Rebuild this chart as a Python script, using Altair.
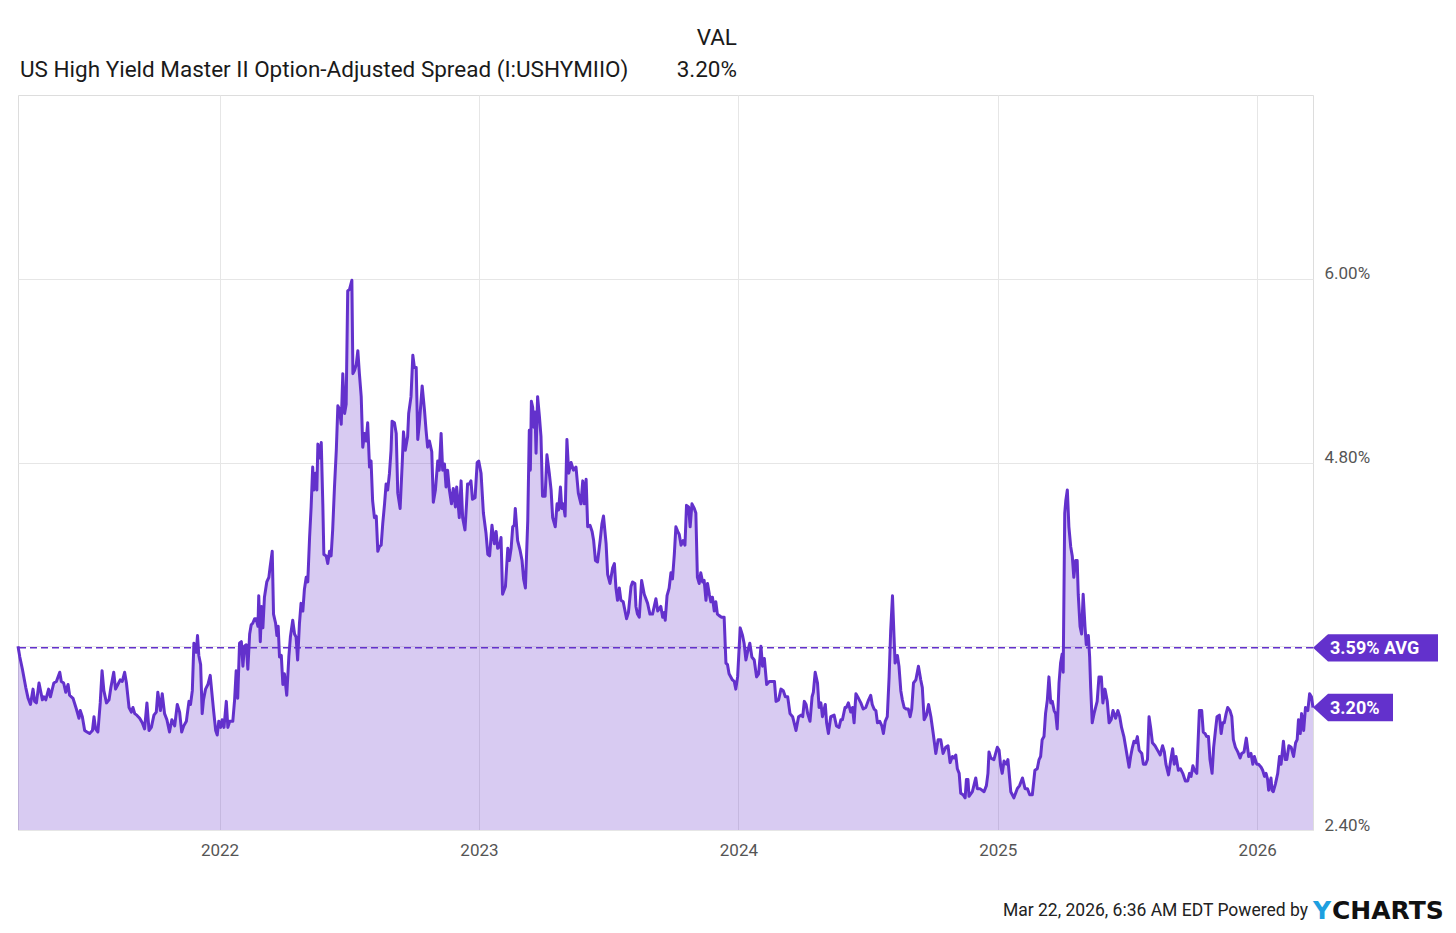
import altair as alt
import pandas as pd

# ---- data (decimal year, spread in %) ----
years_2021 = [2021.223, 2021.230, 2021.240, 2021.253, 2021.262, 2021.271, 2021.281, 2021.287, 2021.294, 2021.304,
              2021.317, 2021.323, 2021.330, 2021.341, 2021.348, 2021.361, 2021.371, 2021.384, 2021.390, 2021.399,
              2021.407, 2021.416, 2021.422, 2021.435, 2021.448, 2021.458, 2021.463, 2021.471, 2021.480, 2021.489,
              2021.499, 2021.510, 2021.516, 2021.522, 2021.531, 2021.540, 2021.547, 2021.554, 2021.564, 2021.574,
              2021.581, 2021.592, 2021.599, 2021.608, 2021.617, 2021.625, 2021.634, 2021.641, 2021.651, 2021.660,
              2021.666, 2021.673, 2021.681, 2021.692, 2021.702, 2021.711, 2021.720, 2021.728, 2021.737, 2021.747,
              2021.756, 2021.762, 2021.772, 2021.779, 2021.788, 2021.797, 2021.807, 2021.816, 2021.827, 2021.837,
              2021.846, 2021.854, 2021.862, 2021.872, 2021.882, 2021.888, 2021.895, 2021.901, 2021.910, 2021.915,
              2021.920, 2021.927, 2021.933, 2021.938, 2021.946, 2021.955, 2021.964, 2021.969, 2021.977, 2021.985,
              2021.991, 2021.997]
spread_2021 = [3.60, 3.53, 3.45, 3.33, 3.26, 3.22, 3.32, 3.24, 3.23, 3.36,
               3.25, 3.27, 3.25, 3.32, 3.27, 3.36, 3.37, 3.43, 3.37, 3.36,
               3.30, 3.35, 3.28, 3.26, 3.19, 3.13, 3.18, 3.14, 3.05, 3.04,
               3.03, 3.05, 3.14, 3.06, 3.04, 3.23, 3.44, 3.31, 3.23, 3.25,
               3.33, 3.43, 3.32, 3.35, 3.38, 3.37, 3.43, 3.36, 3.20, 3.17,
               3.20, 3.16, 3.15, 3.13, 3.10, 3.06, 3.23, 3.05, 3.07, 3.15,
               3.17, 3.30, 3.18, 3.29, 3.16, 3.12, 3.04, 3.12, 3.08, 3.22,
               3.17, 3.04, 3.08, 3.11, 3.24, 3.22, 3.31, 3.62, 3.56, 3.67,
               3.54, 3.48, 3.16, 3.25, 3.32, 3.35, 3.41, 3.32, 3.18, 3.05,
               3.02, 3.11]

years_2022 = [2022.004, 2022.010, 2022.017, 2022.026, 2022.032, 2022.039, 2022.051, 2022.058, 2022.064, 2022.070,
              2022.077, 2022.084, 2022.090, 2022.096, 2022.103, 2022.109, 2022.116, 2022.122, 2022.128, 2022.135,
              2022.141, 2022.148, 2022.151, 2022.157, 2022.162, 2022.167, 2022.173, 2022.182, 2022.190, 2022.195,
              2022.203, 2022.208, 2022.216, 2022.221, 2022.226, 2022.231, 2022.238, 2022.244, 2022.250, 2022.259,
              2022.267, 2022.273, 2022.282, 2022.289, 2022.295, 2022.301, 2022.308, 2022.314, 2022.321, 2022.327,
              2022.334, 2022.340, 2022.347, 2022.353, 2022.359, 2022.363, 2022.370, 2022.375, 2022.379, 2022.385,
              2022.392, 2022.398, 2022.402, 2022.411, 2022.417, 2022.424, 2022.430, 2022.436, 2022.443, 2022.450,
              2022.456, 2022.462, 2022.469, 2022.475, 2022.482, 2022.488, 2022.494, 2022.501, 2022.510, 2022.514,
              2022.520, 2022.527, 2022.533, 2022.539, 2022.546, 2022.552, 2022.559, 2022.565, 2022.571, 2022.578,
              2022.584, 2022.590, 2022.597, 2022.604, 2022.610, 2022.616, 2022.623, 2022.629, 2022.636, 2022.642,
              2022.648, 2022.655, 2022.661, 2022.665, 2022.674, 2022.681, 2022.687, 2022.696, 2022.704, 2022.709,
              2022.716, 2022.725, 2022.729, 2022.738, 2022.745, 2022.751, 2022.758, 2022.764, 2022.770, 2022.781,
              2022.790, 2022.796, 2022.802, 2022.809, 2022.818, 2022.824, 2022.832, 2022.841, 2022.847, 2022.854,
              2022.860, 2022.867, 2022.873, 2022.879, 2022.886, 2022.894, 2022.901, 2022.909, 2022.914, 2022.924,
              2022.931, 2022.937, 2022.946, 2022.952, 2022.956, 2022.963, 2022.969, 2022.975, 2022.985, 2022.993,
              2022.999]
spread_2022 = [3.07, 3.12, 3.07, 3.24, 3.07, 3.11, 3.11, 3.25, 3.44, 3.26,
               3.62, 3.63, 3.47, 3.60, 3.61, 3.45, 3.68, 3.74, 3.75, 3.78,
               3.78, 3.73, 3.93, 3.63, 3.86, 3.72, 3.92, 4.02, 4.05, 4.12,
               4.22, 3.81, 3.75, 3.67, 3.73, 3.53, 3.54, 3.35, 3.42, 3.28,
               3.53, 3.66, 3.77, 3.68, 3.66, 3.51, 3.75, 3.88, 3.83, 3.97,
               4.05, 4.02, 4.31, 4.51, 4.77, 4.62, 4.73, 4.62, 4.92, 4.83,
               4.93, 4.53, 4.20, 4.19, 4.14, 4.22, 4.19, 4.36, 4.64, 4.88,
               5.17, 5.15, 5.05, 5.38, 5.12, 5.18, 5.92, 5.93, 5.99, 5.38,
               5.40, 5.44, 5.53, 5.38, 5.23, 4.90, 4.99, 4.94, 5.06, 4.77,
               4.81, 4.55, 4.44, 4.45, 4.22, 4.25, 4.26, 4.40, 4.53, 4.66,
               4.62, 4.73, 4.88, 5.07, 5.06, 4.99, 4.60, 4.50, 4.79, 5.00,
               4.88, 4.97, 5.12, 5.23, 5.50, 5.42, 5.42, 4.95, 5.05, 5.30,
               5.14, 5.01, 4.90, 4.94, 4.87, 4.54, 4.62, 4.81, 4.75, 4.99,
               4.75, 4.79, 4.64, 4.75, 4.62, 4.53, 4.63, 4.51, 4.64, 4.44,
               4.68, 4.44, 4.36, 4.53, 4.66, 4.66, 4.68, 4.56, 4.57, 4.80,
               4.81]

years_2023 = [2023.008, 2023.017, 2023.027, 2023.034, 2023.041, 2023.050, 2023.059, 2023.066, 2023.072, 2023.079,
              2023.085, 2023.091, 2023.102, 2023.111, 2023.117, 2023.124, 2023.130, 2023.136, 2023.140, 2023.149,
              2023.158, 2023.166, 2023.172, 2023.179, 2023.188, 2023.194, 2023.198, 2023.202, 2023.207, 2023.211,
              2023.216, 2023.220, 2023.226, 2023.233, 2023.239, 2023.245, 2023.255, 2023.262, 2023.271, 2023.278,
              2023.284, 2023.294, 2023.301, 2023.307, 2023.314, 2023.319, 2023.325, 2023.332, 2023.339, 2023.346,
              2023.355, 2023.364, 2023.374, 2023.383, 2023.393, 2023.400, 2023.406, 2023.413, 2023.419, 2023.428,
              2023.436, 2023.442, 2023.449, 2023.457, 2023.467, 2023.474, 2023.480, 2023.490, 2023.496, 2023.505,
              2023.515, 2023.522, 2023.528, 2023.534, 2023.541, 2023.547, 2023.556, 2023.563, 2023.569, 2023.576,
              2023.586, 2023.592, 2023.601, 2023.605, 2023.611, 2023.618, 2023.627, 2023.637, 2023.650, 2023.659,
              2023.669, 2023.682, 2023.689, 2023.701, 2023.708, 2023.714, 2023.718, 2023.725, 2023.733, 2023.740,
              2023.746, 2023.753, 2023.759, 2023.766, 2023.772, 2023.779, 2023.787, 2023.794, 2023.800, 2023.808,
              2023.814, 2023.821, 2023.830, 2023.836, 2023.842, 2023.849, 2023.855, 2023.862, 2023.868, 2023.875,
              2023.881, 2023.888, 2023.894, 2023.900, 2023.907, 2023.913, 2023.919, 2023.926, 2023.935, 2023.945,
              2023.952, 2023.958, 2023.964, 2023.977, 2023.984, 2023.990, 2023.997]
spread_2023 = [4.73, 4.47, 4.34, 4.20, 4.19, 4.39, 4.27, 4.35, 4.24, 4.25,
               4.31, 3.94, 3.99, 4.24, 4.16, 4.24, 4.38, 4.39, 4.50, 4.29,
               4.23, 4.16, 4.04, 3.98, 4.42, 5.01, 4.75, 5.20, 5.16, 5.03,
               5.13, 4.86, 5.23, 5.10, 4.97, 4.58, 4.58, 4.85, 4.73, 4.62,
               4.44, 4.38, 4.53, 4.49, 4.64, 4.50, 4.53, 4.45, 4.95, 4.73,
               4.80, 4.75, 4.77, 4.60, 4.53, 4.68, 4.53, 4.69, 4.38, 4.39,
               4.35, 4.29, 4.16, 4.15, 4.29, 4.40, 4.45, 4.27, 4.07, 4.01,
               4.11, 4.14, 3.98, 3.90, 3.98, 3.90, 3.89, 3.83, 3.78, 3.82,
               3.99, 4.02, 4.01, 3.86, 3.81, 3.79, 4.03, 3.94, 3.88, 3.81,
               3.81, 3.91, 3.83, 3.86, 3.79, 3.82, 3.77, 3.93, 3.98, 4.08,
               4.04, 4.20, 4.38, 4.35, 4.33, 4.26, 4.29, 4.26, 4.52, 4.51,
               4.38, 4.53, 4.50, 4.47, 4.05, 4.01, 4.08, 4.02, 4.03, 3.90,
               4.01, 3.94, 3.89, 3.92, 3.83, 3.89, 3.81, 3.80, 3.79, 3.79,
               3.49, 3.48, 3.42, 3.38, 3.37, 3.32, 3.40]

years_2024 = [2024.007, 2024.016, 2024.022, 2024.029, 2024.035, 2024.044, 2024.052, 2024.061, 2024.070, 2024.078,
              2024.087, 2024.093, 2024.100, 2024.109, 2024.119, 2024.130, 2024.139, 2024.145, 2024.155, 2024.164,
              2024.173, 2024.181, 2024.190, 2024.199, 2024.209, 2024.222, 2024.232, 2024.241, 2024.248, 2024.254,
              2024.261, 2024.267, 2024.276, 2024.284, 2024.289, 2024.296, 2024.305, 2024.311, 2024.318, 2024.324,
              2024.335, 2024.340, 2024.347, 2024.356, 2024.369, 2024.378, 2024.388, 2024.395, 2024.401, 2024.411,
              2024.416, 2024.424, 2024.433, 2024.440, 2024.446, 2024.453, 2024.463, 2024.472, 2024.481, 2024.491,
              2024.502, 2024.510, 2024.516, 2024.523, 2024.530, 2024.536, 2024.545, 2024.553, 2024.559, 2024.566,
              2024.574, 2024.581, 2024.587, 2024.594, 2024.600, 2024.604, 2024.613, 2024.619, 2024.626, 2024.632,
              2024.639, 2024.647, 2024.655, 2024.662, 2024.668, 2024.675, 2024.684, 2024.694, 2024.703, 2024.709,
              2024.716, 2024.725, 2024.733, 2024.742, 2024.751, 2024.761, 2024.770, 2024.780, 2024.789, 2024.799,
              2024.808, 2024.816, 2024.825, 2024.831, 2024.838, 2024.844, 2024.851, 2024.857, 2024.866, 2024.874,
              2024.879, 2024.885, 2024.889, 2024.902, 2024.915, 2024.921, 2024.931, 2024.947, 2024.956, 2024.962,
              2024.966, 2024.973, 2024.985, 2024.998]
spread_2024 = [3.72, 3.67, 3.62, 3.51, 3.56, 3.62, 3.53, 3.51, 3.40, 3.42,
               3.60, 3.47, 3.52, 3.35, 3.37, 3.37, 3.37, 3.24, 3.25, 3.32,
               3.31, 3.27, 3.27, 3.16, 3.14, 3.05, 3.14, 3.15, 3.14, 3.24,
               3.22, 3.16, 3.11, 3.27, 3.30, 3.43, 3.36, 3.20, 3.23, 3.14,
               3.22, 3.10, 3.03, 3.14, 3.15, 3.08, 3.07, 3.12, 3.12, 3.20,
               3.20, 3.23, 3.17, 3.20, 3.10, 3.29, 3.26, 3.23, 3.19, 3.20,
               3.25, 3.28, 3.22, 3.19, 3.18, 3.10, 3.11, 3.08, 3.03, 3.11,
               3.14, 3.40, 3.70, 3.93, 3.66, 3.49, 3.54, 3.47, 3.31, 3.25,
               3.20, 3.19, 3.19, 3.14, 3.19, 3.36, 3.38, 3.47, 3.38, 3.33,
               3.12, 3.15, 3.22, 3.14, 3.03, 2.90, 2.99, 2.99, 2.90, 2.94,
               2.95, 2.84, 2.88, 2.87, 2.89, 2.80, 2.77, 2.64, 2.63, 2.61,
               2.73, 2.73, 2.62, 2.65, 2.74, 2.67, 2.67, 2.65, 2.69, 2.77,
               2.91, 2.87, 2.86, 2.94]

years_2025 = [2025.005, 2025.011, 2025.017, 2025.024, 2025.033, 2025.039, 2025.050, 2025.062, 2025.075, 2025.084,
              2025.095, 2025.105, 2025.114, 2025.123, 2025.133, 2025.143, 2025.152, 2025.159, 2025.165, 2025.171,
              2025.178, 2025.184, 2025.191, 2025.197, 2025.204, 2025.210, 2025.217, 2025.223, 2025.229, 2025.236,
              2025.242, 2025.248, 2025.252, 2025.258, 2025.262, 2025.268, 2025.274, 2025.281, 2025.287, 2025.293,
              2025.300, 2025.306, 2025.310, 2025.317, 2025.323, 2025.329, 2025.336, 2025.341, 2025.349, 2025.354,
              2025.358, 2025.364, 2025.371, 2025.377, 2025.383, 2025.390, 2025.399, 2025.405, 2025.413, 2025.422,
              2025.429, 2025.437, 2025.444, 2025.454, 2025.463, 2025.470, 2025.477, 2025.486, 2025.493, 2025.499,
              2025.506, 2025.512, 2025.519, 2025.525, 2025.532, 2025.538, 2025.545, 2025.555, 2025.561, 2025.570,
              2025.577, 2025.583, 2025.589, 2025.596, 2025.606, 2025.616, 2025.626, 2025.635, 2025.642, 2025.648,
              2025.658, 2025.667, 2025.674, 2025.680, 2025.687, 2025.696, 2025.704, 2025.713, 2025.723, 2025.732,
              2025.739, 2025.745, 2025.752, 2025.758, 2025.767, 2025.777, 2025.786, 2025.792, 2025.799, 2025.805,
              2025.812, 2025.818, 2025.826, 2025.832, 2025.839, 2025.845, 2025.854, 2025.861, 2025.867, 2025.873,
              2025.880, 2025.886, 2025.895, 2025.902, 2025.908, 2025.916, 2025.925, 2025.934, 2025.940, 2025.949,
              2025.958, 2025.967, 2025.976, 2025.983, 2025.989, 2025.998]
spread_2025 = [2.92, 2.82, 2.77, 2.85, 2.83, 2.86, 2.65, 2.61, 2.67, 2.69,
               2.74, 2.67, 2.67, 2.63, 2.63, 2.79, 2.80, 2.86, 2.88, 2.99,
               3.01, 3.16, 3.25, 3.40, 3.23, 3.24, 3.18, 3.16, 3.06, 3.36,
               3.49, 3.55, 3.43, 4.47, 4.55, 4.62, 4.38, 4.25, 4.19, 4.05,
               4.16, 4.16, 3.94, 3.73, 3.68, 3.94, 3.73, 3.61, 3.67, 3.53,
               3.33, 3.10, 3.16, 3.20, 3.24, 3.40, 3.40, 3.23, 3.32, 3.24,
               3.10, 3.12, 3.18, 3.13, 3.18, 3.14, 3.07, 3.01, 2.94, 2.88,
               2.81, 2.88, 2.94, 2.98, 2.97, 3.01, 2.92, 2.90, 2.83, 2.83,
               2.86, 3.14, 3.07, 2.97, 2.95, 2.92, 2.89, 2.95, 2.91, 2.83,
               2.76, 2.86, 2.93, 2.83, 2.88, 2.79, 2.80, 2.77, 2.72, 2.72,
               2.77, 2.75, 2.82, 2.79, 2.77, 3.18, 3.18, 3.04, 3.03, 3.01,
               3.01, 2.86, 2.77, 2.94, 3.05, 3.14, 3.15, 3.03, 3.10, 3.10,
               3.16, 3.20, 3.18, 3.14, 2.99, 2.94, 2.91, 2.87, 2.90, 2.91,
               3.00, 2.88, 2.90, 2.83, 2.88, 2.83]

years_2026 = [2026.005, 2026.015, 2026.021, 2026.028, 2026.034, 2026.040, 2026.044, 2026.053, 2026.057, 2026.062,
              2026.070, 2026.079, 2026.086, 2026.092, 2026.101, 2026.108, 2026.114, 2026.122, 2026.131, 2026.140,
              2026.148, 2026.154, 2026.159, 2026.166, 2026.171, 2026.179, 2026.186, 2026.195, 2026.202, 2026.209,
              2026.215]
spread_2026 = [2.83, 2.81, 2.79, 2.75, 2.77, 2.73, 2.66, 2.74, 2.66, 2.65,
               2.70, 2.77, 2.88, 2.83, 2.98, 2.86, 2.86, 2.95, 2.94, 2.88,
               2.97, 2.99, 3.12, 3.03, 3.16, 3.05, 3.20, 3.18, 3.29, 3.27,
               3.20]

average_value = 3.59
last_value = 3.20
year_ticks = [2022, 2023, 2024, 2025, 2026]
value_ticks = [2.40, 3.60, 4.80, 6.00]
y_domain = [2.40, 7.20]

series_name = "US High Yield Master II Option-Adjusted Spread (I:USHYMIIO)"
val_header = "VAL"
val_text = "3.20%"
avg_label = "3.59% AVG"
last_label = "3.20%"
footer_text = "Mar 22, 2026, 6:36 AM EDT Powered by"

# ---- build table ----
all_years = years_2021 + years_2022 + years_2023 + years_2024 + years_2025 + years_2026
all_spread = spread_2021 + spread_2022 + spread_2023 + spread_2024 + spread_2025 + spread_2026
df = pd.DataFrame({"year": all_years, "spread": all_spread})
x_domain = [min(all_years), max(all_years)]

PURPLE = "#6331cc"
FONT = "Roboto"
W, H = 1295, 735

xscale = alt.Scale(domain=x_domain, nice=False, zero=False)
yscale = alt.Scale(domain=y_domain, nice=False, zero=False)

x_axis = alt.Axis(values=year_ticks, format="d", title=None, ticks=False, domain=False,
                  labelFontSize=17, labelColor="#555555", labelFont=FONT, labelPadding=12,
                  grid=True, gridColor="#e6e6e6", labelFlush=False)
y_axis = alt.Axis(values=value_ticks, orient="right", title=None, ticks=False, domain=False,
                  labelExpr="format(datum.value, '.2f') + '%'", labelFontSize=17,
                  labelColor="#555555", labelFont=FONT, labelPadding=11,
                  labelBaseline="alphabetic", labelAlign="left",
                  grid=True, gridColor="#e6e6e6")

base = alt.Chart(df)

area = base.mark_area(color=PURPLE, opacity=0.25).encode(
    x=alt.X("year:Q", scale=xscale, axis=x_axis),
    y=alt.Y("spread:Q", scale=yscale, axis=y_axis),
    y2=alt.datum(y_domain[0]),
)

line = base.mark_line(color=PURPLE, strokeWidth=3, strokeJoin="round").encode(
    x=alt.X("year:Q", scale=xscale),
    y=alt.Y("spread:Q", scale=yscale),
)

avg_df = pd.DataFrame({"year": [x_domain[1]], "spread": [average_value], "label": [avg_label]})
last_df = pd.DataFrame({"year": [x_domain[1]], "spread": [last_value], "label": [last_label]})

avg_rule = alt.Chart(avg_df).mark_rule(color=PURPLE, strokeDash=[7, 4], strokeWidth=1.5).encode(
    y=alt.Y("spread:Q", scale=yscale),
)

avg_shape = "M0,0 L1.1,-1 L9.16,-1 L9.16,1 L1.1,1 Z"
last_shape = "M0,0 L1.1,-1 L5.86,-1 L5.86,1 L1.1,1 Z"

avg_flag = alt.Chart(avg_df).mark_point(shape=avg_shape, filled=True, size=745, color=PURPLE, opacity=1).encode(
    x=alt.X("year:Q", scale=xscale), y=alt.Y("spread:Q", scale=yscale))
last_flag = alt.Chart(last_df).mark_point(shape=last_shape, filled=True, size=745, color=PURPLE, opacity=1).encode(
    x=alt.X("year:Q", scale=xscale), y=alt.Y("spread:Q", scale=yscale))

avg_text = alt.Chart(avg_df).mark_text(align="left", baseline="middle", dx=17, dy=1, color="white",
                                       fontWeight="bold", fontSize=18, font=FONT).encode(
    x=alt.X("year:Q", scale=xscale), y=alt.Y("spread:Q", scale=yscale), text="label:N")
last_text = alt.Chart(last_df).mark_text(align="left", baseline="middle", dx=17, dy=1, color="white",
                                         fontWeight="bold", fontSize=18, font=FONT).encode(
    x=alt.X("year:Q", scale=xscale), y=alt.Y("spread:Q", scale=yscale), text="label:N")

def label(text, x, y, align="left", size=22, color="#1a1a1a", weight="normal", font=FONT):
    return alt.Chart(pd.DataFrame({"t": [text]})).mark_text(
        align=align, baseline="middle", fontSize=size, color=color, fontWeight=weight, font=font
    ).encode(x=alt.value(x), y=alt.value(y), text="t:N")

title_txt = label(series_name, 2, -25, size=22.5)
val_head = label(val_header, 719, -57, align="right", size=22.5)
val_num = label(val_text, 719, -25, align="right", size=22.5)
footer = label(footer_text, 1290, 816, align="right", size=17.5, color="#222222")
logo_y = label("Y", 1295, 816, size=25, color="#1e9fe0", weight="bold", font="DejaVu Sans")
logo_rest = label("CHARTS", 1314, 816, size=25, color="#111111", weight="bold", font="DejaVu Sans")

chart = alt.layer(
    area, line, avg_rule, avg_flag, last_flag, avg_text, last_text,
    title_txt, val_head, val_num, footer, logo_y, logo_rest
).properties(
    width=W, height=H,
    autosize=alt.AutoSizeParams(type="none"),
    padding={"left": 10, "top": 87, "right": 130, "bottom": 95},
    background="white",
).configure_view(stroke="#dddddd", strokeWidth=1)

chart.save("out.html", embed_options={"renderer": "svg", "actions": False})
